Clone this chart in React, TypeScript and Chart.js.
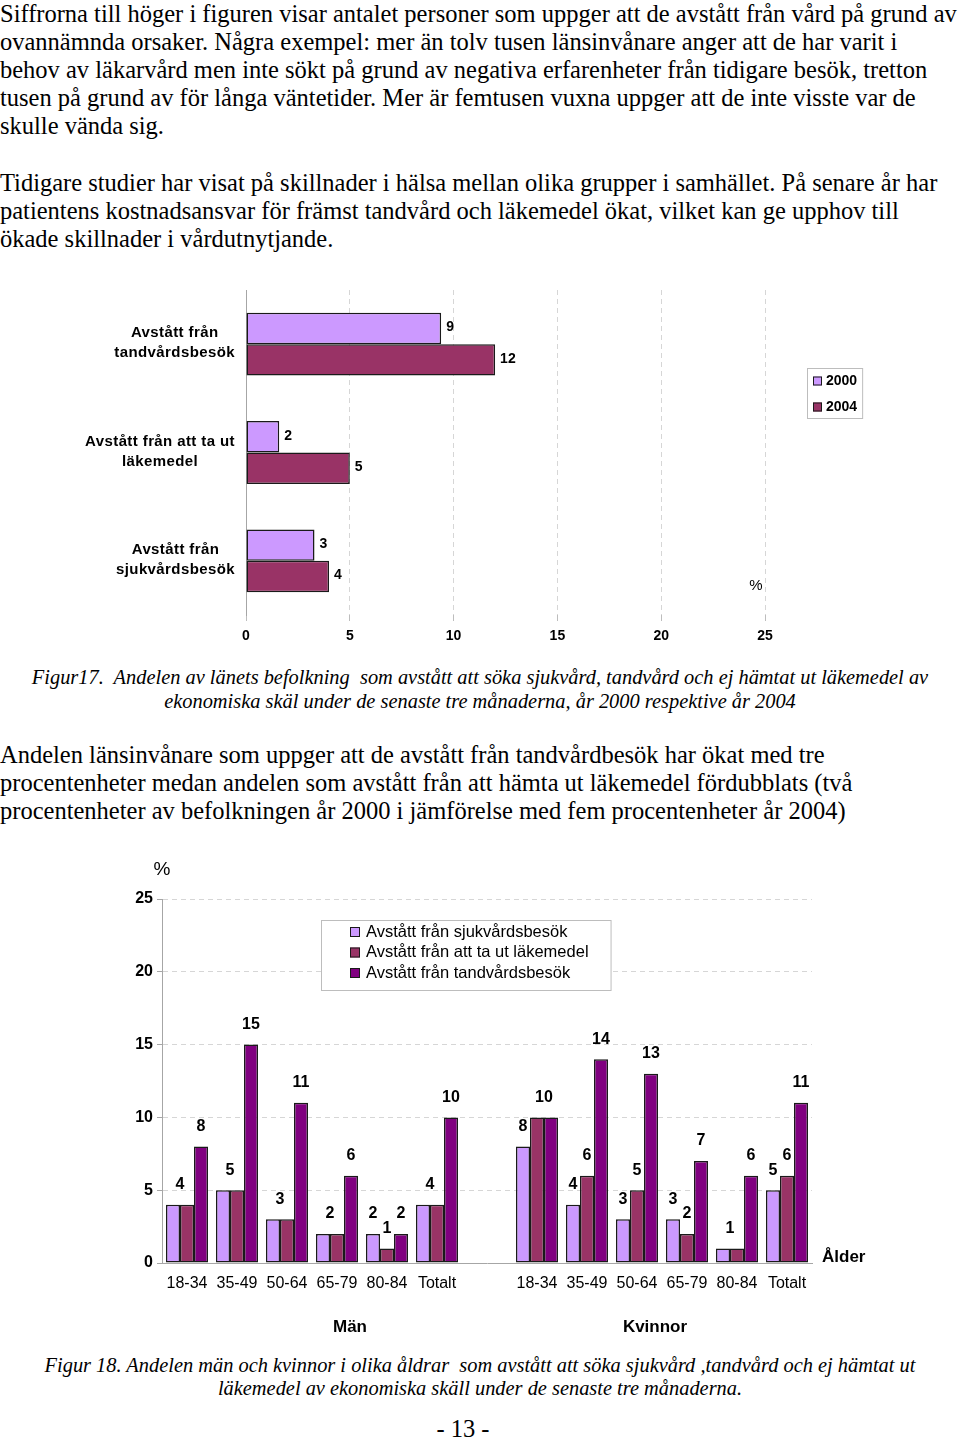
import React, { useEffect, useRef } from "react";
import { Chart, registerables } from "chart.js";

Chart.register(...registerables);

const SANS = "'Liberation Sans', Arial, sans-serif";
const SERIF = "'Liberation Serif', 'Times New Roman', serif";

// ---------- Figur 17 data ----------
const fig17Categories: string[][] = [
  ["Avstått från", "tandvårdsbesök"],
  ["Avstått från att ta ut", "läkemedel"],
  ["Avstått från", "sjukvårdsbesök"],
];
const fig17Years = ["2000", "2004"];
const fig17Values2000 = [9.4, 1.6, 3.3];
const fig17Values2004 = [12, 5, 4];
const fig17XTicks = [0, 5, 10, 15, 20, 25];
const fig17UnitLabel = "%";

// ---------- Figur 18 data ----------
const fig18AgeLabels = [
  "18-34", "35-49", "50-64", "65-79", "80-84", "Totalt",
  "",
  "18-34", "35-49", "50-64", "65-79", "80-84", "Totalt",
];
const fig18GroupLabels = ["Män", "Kvinnor"];
const fig18SeriesNames = [
  "Avstått från sjukvårdsbesök",
  "Avstått från att ta ut läkemedel",
  "Avstått från tandvårdsbesök",
];
const fig18Sjukvard = [4, 5, 3, 2, 2, 4, null, 8, 4, 3, 3, 1, 5];
const fig18Lakemedel = [4, 5, 3, 2, 1, 4, null, 10, 6, 5, 2, 1, 6];
const fig18Tandvard = [8, 15, 11, 6, 2, 10, null, 10, 14, 13, 7, 6, 11];
const fig18YTicks = [0, 5, 10, 15, 20, 25];
const fig18UnitLabel = "%";
const fig18AxisLabel = "Ålder";

const COLOR_LIGHT = "#CC99FF";
const COLOR_MAROON = "#993366";
const COLOR_PURPLE = "#800080";
const BAR_BORDER = "#1a1a1a";
const GRID = "#d6d6d6";
const AXIS = "#a6a6a6";

function drawSwatch(ctx: CanvasRenderingContext2D, x: number, y: number, s: number, color: string) {
  ctx.fillStyle = color;
  ctx.fillRect(x, y - s / 2, s, s);
  ctx.strokeStyle = BAR_BORDER;
  ctx.lineWidth = 1;
  ctx.strokeRect(x + 0.5, y - s / 2 + 0.5, s - 1, s - 1);
}

function Figure17() {
  const ref = useRef<HTMLCanvasElement | null>(null);
  useEffect(() => {
    if (!ref.current) return;
    const extras = {
      id: "fig17extras",
      afterDatasetsDraw(chart: any) {
        const ctx: CanvasRenderingContext2D = chart.ctx;
        const ca = chart.chartArea;
        ctx.save();
        // value labels
        ctx.font = `bold 14px ${SANS}`;
        ctx.fillStyle = "#000";
        ctx.textAlign = "left";
        ctx.textBaseline = "middle";
        chart.data.datasets.forEach((ds: any, di: number) => {
          chart.getDatasetMeta(di).data.forEach((el: any, i: number) => {
            const v = ds.data[i];
            if (v == null) return;
            ctx.fillText(String(Math.round(v)), el.x + 5, el.y - 1);
          });
        });
        // category labels (lines centred within a right-aligned block)
        const yScale = chart.scales.y;
        ctx.font = `bold 15px ${SANS}`;
        (ctx as any).letterSpacing = "0.4px";
        ctx.textAlign = "center";
        chart.data.labels.forEach((lab: string[], i: number) => {
          const y = yScale.getPixelForTick(i) - 1;
          const w = Math.max(...lab.map((l) => ctx.measureText(l).width));
          const cx = ca.left - 11 - w / 2;
          lab.forEach((line, j) => {
            ctx.fillText(line, cx, y + (j - (lab.length - 1) / 2) * 20);
          });
        });
        (ctx as any).letterSpacing = "0px";
        // unit
        ctx.font = `15px ${SANS}`;
        ctx.fillText(fig17UnitLabel, ca.right - 9, ca.bottom - 29);
        // legend
        ctx.font = `bold 14px ${SANS}`;
        const names = chart.data.datasets.map((d: any) => d.label);
        const tw = Math.max(...names.map((n: string) => ctx.measureText(n).width));
        const lx = ca.right + 42;
        const ly = ca.top + 78;
        const lw = 19 + tw + 5;
        const lh = 50;
        ctx.strokeStyle = "#bdbdbd";
        ctx.lineWidth = 1;
        ctx.strokeRect(lx + 0.5, ly + 0.5, lw, lh);
        chart.data.datasets.forEach((ds: any, di: number) => {
          const cy = ly + 13 + 26 * di;
          drawSwatch(ctx, lx + 6, cy, 9, ds.backgroundColor);
          ctx.fillStyle = "#000";
          ctx.textAlign = "left";
          ctx.textBaseline = "middle";
          ctx.fillText(ds.label, lx + 19, cy);
        });
        ctx.restore();
      },
    };
    const chart = new Chart(ref.current, {
      type: "bar",
      data: {
        labels: fig17Categories as any,
        datasets: [
          {
            label: fig17Years[0],
            data: fig17Values2000,
            backgroundColor: COLOR_LIGHT,
            borderColor: BAR_BORDER,
            borderWidth: 1.5,
            borderSkipped: false,
            categoryPercentage: 0.58,
            barPercentage: 1,
          },
          {
            label: fig17Years[1],
            data: fig17Values2004,
            backgroundColor: COLOR_MAROON,
            borderColor: BAR_BORDER,
            borderWidth: 1.5,
            borderSkipped: false,
            categoryPercentage: 0.58,
            barPercentage: 1,
          },
        ],
      },
      options: {
        indexAxis: "y",
        animation: false,
        responsive: false,
        events: [],
        layout: { padding: { top: 10, right: 195, left: 0, bottom: 0 } },
        plugins: { legend: { display: false }, tooltip: { enabled: false } },
        scales: {
          x: {
            type: "linear",
            min: 0,
            max: 25,
            afterBuildTicks: (s: any) => {
              s.ticks = fig17XTicks.map((v) => ({ value: v }));
            },
            afterFit: (s: any) => {
              s.height = 45;
            },
            grid: {
              color: (c: any) => (c.tick && c.tick.value === 0 ? "rgba(0,0,0,0)" : GRID),
              tickColor: "#bdbdbd",
              tickLength: 6,
              tickBorderDash: [],
            },
            border: { display: false, dash: [5, 4] },
            ticks: { font: { family: SANS, size: 14, weight: "bold" }, color: "#000", padding: 7 },
          },
          y: {
            type: "category",
            grid: { display: false },
            ticks: { display: false },
            border: { display: true, color: AXIS, width: 1 },
            afterFit: (s: any) => {
              s.width = 246;
            },
          },
        },
      } as any,
      plugins: [extras],
    });
    return () => chart.destroy();
  }, []);
  return <canvas ref={ref} width={960} height={380} style={{ width: 960, height: 380, display: "block" }} />;
}

function Figure18() {
  const ref = useRef<HTMLCanvasElement | null>(null);
  useEffect(() => {
    if (!ref.current) return;
    const extras = {
      id: "fig18extras",
      afterDatasetsDraw(chart: any) {
        const ctx: CanvasRenderingContext2D = chart.ctx;
        const ca = chart.chartArea;
        const xScale = chart.scales.x;
        ctx.save();
        // value labels; equal neighbouring labels are shown once between the bars
        ctx.font = `bold 16px ${SANS}`;
        ctx.fillStyle = "#000";
        ctx.textAlign = "center";
        ctx.textBaseline = "middle";
        const n = chart.data.labels.length;
        for (let i = 0; i < n; i++) {
          const items = chart.data.datasets.map((ds: any, di: number) => {
            const v = ds.data[i];
            const el = chart.getDatasetMeta(di).data[i];
            return v == null || !el ? null : { text: String(Math.round(v)), x: el.x, y: el.y };
          });
          let k = 0;
          while (k < items.length) {
            const it = items[k];
            if (!it) {
              k++;
              continue;
            }
            const nx = items[k + 1];
            if (nx && nx.text === it.text) {
              ctx.fillText(it.text, (it.x + nx.x) / 2, Math.min(it.y, nx.y) - 20);
              k += 2;
            } else {
              ctx.fillText(it.text, it.x, it.y - 20);
              k++;
            }
          }
        }
        // unit label
        ctx.font = `19px ${SANS}`;
        ctx.fillText(fig18UnitLabel, ca.left, ca.top - 29);
        // axis label
        ctx.font = `bold 17px ${SANS}`;
        ctx.textAlign = "left";
        ctx.fillText(fig18AxisLabel, ca.right + 10, ca.bottom - 6);
        // group labels
        ctx.textAlign = "center";
        const groupPos = [3.26, 9.36];
        fig18GroupLabels.forEach((g, gi) => {
          ctx.fillText(g, xScale.getPixelForValue(groupPos[gi]), ca.bottom + 64);
        });
        // legend
        ctx.font = `16.5px ${SANS}`;
        const names = chart.data.datasets.map((d: any) => d.label);
        const tw = Math.max(...names.map((s: string) => ctx.measureText(s).width));
        const lx = ca.left + 159;
        const ly = ca.top + 21;
        const lw = 45 + tw + 22;
        const lh = 70;
        ctx.fillStyle = "#fff";
        ctx.fillRect(lx, ly, lw, lh);
        ctx.strokeStyle = "#bdbdbd";
        ctx.lineWidth = 1;
        ctx.strokeRect(lx + 0.5, ly + 0.5, lw, lh);
        chart.data.datasets.forEach((ds: any, di: number) => {
          const cy = ly + 12 + 20.5 * di;
          drawSwatch(ctx, lx + 29, cy, 10, ds.backgroundColor);
          ctx.fillStyle = "#000";
          ctx.textAlign = "left";
          ctx.textBaseline = "middle";
          ctx.fillText(ds.label, lx + 45, cy);
        });
        ctx.restore();
      },
    };
    const mk = (label: string, data: (number | null)[], color: string) => ({
      label,
      data,
      backgroundColor: color,
      borderColor: BAR_BORDER,
      borderWidth: 1.5,
      borderSkipped: false,
      categoryPercentage: 0.84,
      barPercentage: 1,
    });
    const chart = new Chart(ref.current, {
      type: "bar",
      data: {
        labels: fig18AgeLabels,
        datasets: [
          mk(fig18SeriesNames[0], fig18Sjukvard, COLOR_LIGHT),
          mk(fig18SeriesNames[1], fig18Lakemedel, COLOR_MAROON),
          mk(fig18SeriesNames[2], fig18Tandvard, COLOR_PURPLE),
        ],
      },
      options: {
        animation: false,
        responsive: false,
        events: [],
        layout: { padding: { top: 49, right: 148, left: 0, bottom: 0 } },
        plugins: { legend: { display: false }, tooltip: { enabled: false } },
        scales: {
          x: {
            type: "category",
            grid: { display: false, drawTicks: false },
            border: { display: true, color: AXIS, width: 1 },
            ticks: {
              font: { family: SANS, size: 16 },
              color: "#000",
              padding: 11,
              autoSkip: false,
              maxRotation: 0,
              minRotation: 0,
            },
            afterFit: (s: any) => {
              s.height = 87;
            },
          },
          y: {
            type: "linear",
            min: 0,
            max: 25,
            afterBuildTicks: (s: any) => {
              s.ticks = fig18YTicks.map((v) => ({ value: v }));
            },
            grid: {
              color: (c: any) => (c.tick && c.tick.value === 0 ? "rgba(0,0,0,0)" : GRID),
              tickColor: AXIS,
              tickLength: 5,
              tickBorderDash: [],
            },
            border: { display: true, color: AXIS, width: 1, dash: [5, 4] },
            ticks: { font: { family: SANS, size: 16, weight: "bold" }, color: "#000", padding: 4 },
            afterFit: (s: any) => {
              s.width = 162;
            },
          },
        },
      } as any,
      plugins: [extras],
    });
    return () => chart.destroy();
  }, []);
  return <canvas ref={ref} width={960} height={500} style={{ width: 960, height: 500, display: "block" }} />;
}

const bodyText: React.CSSProperties = {
  position: "absolute",
  left: 0,
  fontFamily: SERIF,
  fontSize: 24.5,
  lineHeight: "28px",
  whiteSpace: "nowrap",
  color: "#000",
};

const captionText: React.CSSProperties = {
  position: "absolute",
  left: 0,
  width: 960,
  textAlign: "center",
  fontFamily: SERIF,
  fontStyle: "italic",
  fontSize: 20.4,
  whiteSpace: "pre",
  color: "#000",
};

export default function App() {
  return (
    <div style={{ position: "relative", width: 960, height: 1440, overflow: "hidden", background: "#fff" }}>
      <style>{"body{margin:0;}"}</style>
      <div style={{ ...bodyText, top: 0 }}>
        Siffrorna till höger i figuren visar antalet personer som uppger att de avstått från vård på grund av
        <br />
        ovannämnda orsaker. Några exempel: mer än tolv tusen länsinvånare anger att de har varit i
        <br />
        behov av läkarvård men inte sökt på grund av negativa erfarenheter från tidigare besök, tretton
        <br />
        tusen på grund av för långa väntetider. Mer är femtusen vuxna uppger att de inte visste var de
        <br />
        skulle vända sig.
      </div>
      <div style={{ ...bodyText, top: 169 }}>
        Tidigare studier har visat på skillnader i hälsa mellan olika grupper i samhället. På senare år har
        <br />
        patientens kostnadsansvar för främst tandvård och läkemedel ökat, vilket kan ge upphov till
        <br />
        ökade skillnader i vårdutnytjande.
      </div>
      <div style={{ position: "absolute", left: 0, top: 280 }}>
        <Figure17 />
      </div>
      <div style={{ ...captionText, top: 665, lineHeight: "24px" }}>
        {"Figur17.  Andelen av länets befolkning  som avstått att söka sjukvård, tandvård och ej hämtat ut läkemedel av"}
        <br />
        {"ekonomiska skäl under de senaste tre månaderna, år 2000 respektive år 2004"}
      </div>
      <div style={{ ...bodyText, top: 741 }}>
        Andelen länsinvånare som uppger att de avstått från tandvårdbesök har ökat med tre
        <br />
        procentenheter medan andelen som avstått från att hämta ut läkemedel fördubblats (två
        <br />
        procentenheter av befolkningen år 2000 i jämförelse med fem procentenheter år 2004)
      </div>
      <div style={{ position: "absolute", left: 0, top: 850 }}>
        <Figure18 />
      </div>
      <div style={{ ...captionText, top: 1354, lineHeight: "23px" }}>
        {"Figur 18. Andelen män och kvinnor i olika åldrar  som avstått att söka sjukvård ,tandvård och ej hämtat ut"}
        <br />
        {"läkemedel av ekonomiska skäll under de senaste tre månaderna."}
      </div>
      <div
        style={{
          position: "absolute",
          left: 0,
          width: 926,
          top: 1415,
          textAlign: "center",
          fontFamily: SERIF,
          fontSize: 24.5,
          lineHeight: "28px",
        }}
      >
        - 13 -
      </div>
    </div>
  );
}
